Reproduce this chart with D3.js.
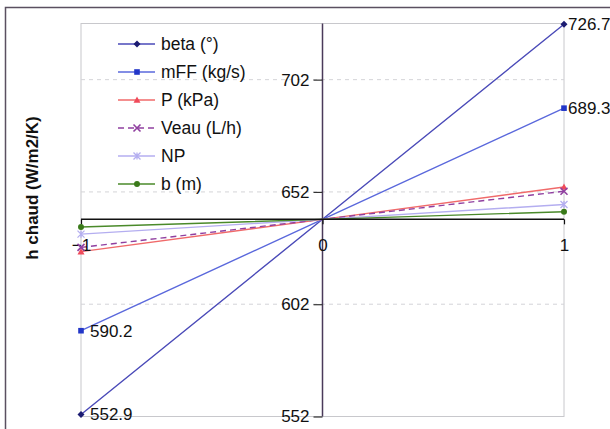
<!DOCTYPE html>
<html><head><meta charset="utf-8">
<script src="https://cdn.jsdelivr.net/npm/d3@7"></script>
<style>body{margin:0;background:#fff}svg{display:block}text{font-family:"Liberation Sans",Arial,sans-serif}</style>
</head><body>
<svg id="c" width="610" height="429"></svg>
<script>
const xValues = [-1, 0, 1];
const seriesNames = ["beta (°)", "mFF (kg/s)", "P (kPa)", "Veau (L/h)", "NP", "b (m)"];
const betaValues = [552.9, 639.8, 726.7];
const mffValues = [590.2, 639.8, 689.3];
const pValues = [625.4, 639.8, 654.2];
const veauValues = [627.3, 639.8, 652.3];
const npValues = [633.2, 639.8, 646.4];
const bValues = [636.4, 639.8, 643.2];
const yTicks = [552, 602, 652, 702];
const xTicks = [-1, 0, 1];
const yDomain = [552, 727];
const axisCross = 639.8;

const styles = [
  {line:"#4a4ab8", mark:"#1c1c72", shape:"diamond", dash:null},
  {line:"#5a68dc", mark:"#2236c8", shape:"square", dash:null},
  {line:"#f06a6a", mark:"#f04a5a", shape:"triangle", dash:null},
  {line:"#9040a0", mark:"#9040a0", shape:"cross", dash:"6,4"},
  {line:"#b4aef0", mark:"#b4aef0", shape:"star", dash:null},
  {line:"#4a8a2a", mark:"#3a7a1a", shape:"circle", dash:null}
];
const allValues = [betaValues, mffValues, pValues, veauValues, npValues, bValues];

const svg = d3.select("#c");
const x = d3.scaleLinear().domain([-1, 1]).range([81, 564]);
const y = d3.scaleLinear().domain(yDomain).range([416.5, 23.5]);

// outer chart border
svg.append("rect").attr("x", 5.5).attr("y", 7.5).attr("width", 640).attr("height", 440)
  .attr("fill", "none").attr("stroke", "#5a5060").attr("stroke-width", 1.5);

// plot area border
svg.append("rect").attr("x", x(-1)).attr("y", y(yDomain[1])).attr("width", x(1) - x(-1)).attr("height", y(yDomain[0]) - y(yDomain[1]))
  .attr("fill", "none").attr("stroke", "#c8c8cc").attr("stroke-width", 1);

// gridlines
svg.append("g").selectAll("line").data(yTicks.slice(1)).join("line")
  .attr("x1", x(-1)).attr("x2", x(1)).attr("y1", d => y(d)).attr("y2", d => y(d))
  .attr("stroke", "#d4d4d8").attr("stroke-dasharray", "4,4").attr("stroke-width", 1);

// y axis at x=0
const yAxis = d3.axisLeft(y).tickValues(yTicks).tickSize(9).tickPadding(4).tickFormat(d3.format("d"));
const gy = svg.append("g").attr("transform", `translate(${x(0)},0)`).call(yAxis);
gy.select(".domain").attr("stroke", "#4a3a5a").attr("stroke-width", 1.5).attr("d", `M0,${y(yDomain[0])}V${y(yDomain[1])}`);
gy.selectAll(".tick line").attr("stroke", "#333").attr("stroke-width", 1.2);
gy.selectAll(".tick text").attr("font-size", 17).attr("fill", "#111").style("font-family", "Liberation Sans, Arial, sans-serif");

// series lines
const line = d3.line().x((d, i) => x(xValues[i])).y(d => y(d));
allValues.forEach((vals, k) => {
  svg.append("path").datum(vals).attr("d", line).attr("fill", "none")
    .attr("stroke", styles[k].line).attr("stroke-width", 1.4)
    .attr("stroke-dasharray", styles[k].dash);
});

// x axis crossing at center value
const xAxis = d3.axisBottom(x).tickValues(xTicks).tickSize(5).tickPadding(15).tickFormat(d3.format("d"));
const gx = svg.append("g").attr("transform", `translate(0,${y(axisCross)})`).call(xAxis);
gx.select(".domain").attr("stroke", "#111").attr("stroke-width", 1.5).attr("d", `M${x(-1)},0H${x(1)}`);
gx.selectAll(".tick line").attr("stroke", "#111").attr("stroke-width", 1.2);
gx.selectAll(".tick text").attr("font-size", 17).attr("fill", "#111").style("font-family", "Liberation Sans, Arial, sans-serif");

function marker(g, shape, color, cx, cy, s) {
  if (shape === "diamond") g.append("path").attr("d", `M${cx},${cy-s}L${cx+s},${cy}L${cx},${cy+s}L${cx-s},${cy}Z`).attr("fill", color);
  else if (shape === "square") g.append("rect").attr("x", cx-s*0.8).attr("y", cy-s*0.8).attr("width", s*1.6).attr("height", s*1.6).attr("fill", color);
  else if (shape === "triangle") g.append("path").attr("d", `M${cx},${cy-s}L${cx+s},${cy+s*0.8}L${cx-s},${cy+s*0.8}Z`).attr("fill", color);
  else if (shape === "circle") g.append("circle").attr("cx", cx).attr("cy", cy).attr("r", s*0.85).attr("fill", color);
  else if (shape === "cross") g.append("path").attr("d", `M${cx-s},${cy-s}L${cx+s},${cy+s}M${cx-s},${cy+s}L${cx+s},${cy-s}`).attr("stroke", color).attr("stroke-width", 1.6);
  else if (shape === "star") g.append("path").attr("d", `M${cx-s},${cy-s}L${cx+s},${cy+s}M${cx-s},${cy+s}L${cx+s},${cy-s}M${cx},${cy-s}V${cy+s}`).attr("stroke", color).attr("stroke-width", 1.3);
}

// markers at the end points
const mg = svg.append("g");
allValues.forEach((vals, k) => {
  vals.forEach((v, i) => {
    if (xValues[i] !== 0) marker(mg, styles[k].shape, styles[k].mark, x(xValues[i]), y(v), 3.5);
  });
});

// data labels
const labelSeries = [betaValues, mffValues];
labelSeries.forEach(vals => {
  svg.append("text").attr("x", x(1) + 4).attr("y", y(vals[2])).attr("dy", "0.35em")
    .attr("font-size", 17).attr("fill", "#111").text(d3.format(".1f")(vals[2]));
  svg.append("text").attr("x", x(-1) + 9).attr("y", y(vals[0])).attr("dy", "0.35em")
    .attr("font-size", 17).attr("fill", "#111").text(d3.format(".1f")(vals[0]));
});

// legend
const lg = svg.append("g");
seriesNames.forEach((name, k) => {
  const cy = 44 + k * 28;
  lg.append("line").attr("x1", 118).attr("x2", 155).attr("y1", cy).attr("y2", cy)
    .attr("stroke", styles[k].line).attr("stroke-width", 1.4).attr("stroke-dasharray", styles[k].dash);
  marker(lg, styles[k].shape, styles[k].mark, 137, cy, 3.5);
  lg.append("text").attr("x", 161).attr("y", cy).attr("dy", "0.35em").attr("font-size", 17.5).attr("fill", "#111").text(name);
});

// y axis title
svg.append("text").attr("transform", "translate(38,188) rotate(-90)").attr("text-anchor", "middle")
  .attr("font-size", 17).attr("font-weight", "bold").attr("fill", "#111").text("h chaud (W/m2/K)");
</script>
</body></html>
